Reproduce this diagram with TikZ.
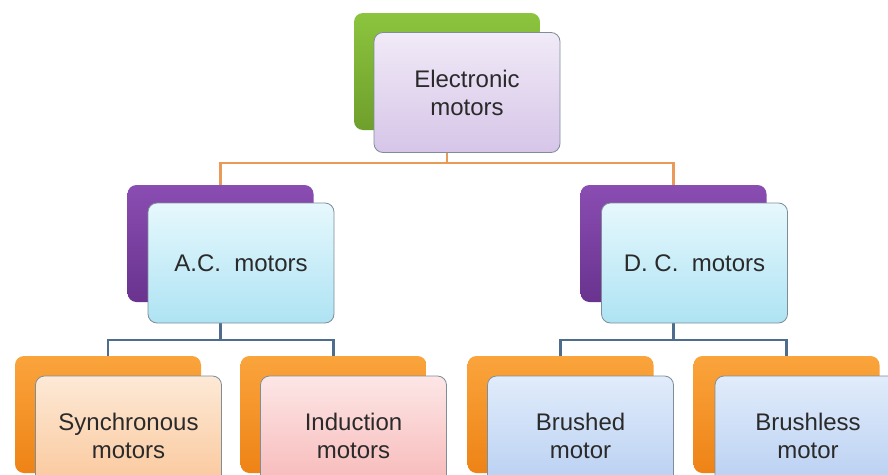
\documentclass[tikz,border=0pt]{standalone}
\usepackage{fontspec}
\setmainfont{Liberation Sans}

\definecolor{txt}{HTML}{2A2A2A}
\definecolor{greenA}{HTML}{8CC43E}
\definecolor{greenB}{HTML}{6E9F2C}
\definecolor{purpA}{HTML}{8A4DB2}
\definecolor{purpB}{HTML}{69338F}
\definecolor{oranA}{HTML}{FAA43C}
\definecolor{oranB}{HTML}{EE8316}
\definecolor{lilacA}{HTML}{F1EAF7}
\definecolor{lilacB}{HTML}{D6C5E8}
\definecolor{cyanA}{HTML}{E6F8FD}
\definecolor{cyanB}{HTML}{AEE3F3}
\definecolor{peachA}{HTML}{FDE9D6}
\definecolor{peachB}{HTML}{FAC597}
\definecolor{pinkA}{HTML}{FDE6E6}
\definecolor{pinkB}{HTML}{F7B5B5}
\definecolor{blueA}{HTML}{E1ECFB}
\definecolor{blueB}{HTML}{B5CDF1}
\definecolor{edge}{HTML}{7F8D99}
\definecolor{busO}{HTML}{E99A56}
\definecolor{busB}{HTML}{4E6D8C}

\pgfdeclarelayer{paper}
\pgfdeclarelayer{wires}
\pgfsetlayers{paper,wires,main}

\begin{document}
\begin{tikzpicture}[x=1pt,y=-1pt,
  backbox/.style={rounded corners=9pt, minimum width=186pt, minimum height=117pt,
    inner sep=0pt, top color=#1A, bottom color=#1B},
  frontbox/.style={rounded corners=9pt, minimum width=186pt, minimum height=120pt,
    inner sep=0pt, draw=edge, line width=0.8pt, align=center,
    font=\fontsize{24}{28}\selectfont, text=txt, top color=#1A, bottom color=#1B},
  wireO/.style={draw=busO, line width=2.4pt},
  wireB/.style={draw=busB, line width=2.4pt}]
\useasboundingbox (0,0) rectangle (888,474);
\begin{pgfonlayer}{paper}
  \fill[white] (0,0) rectangle (888,474);
\end{pgfonlayer}
\clip (0,0) rectangle (888,474);

% level 1
\node[backbox=green]  (topb) at (447,71.5) {};
\node[frontbox=lilac] (topf) at (467,92.5) {Electronic\\motors};

% level 2
\node[backbox=purp]  (acb) at (220.5,243.5) {};
\node[frontbox=cyan] (acf) at (241,263) {A.C.\ \ motors};
\node[backbox=purp]  (dcb) at (673.5,243.5) {};
\node[frontbox=cyan] (dcf) at (694.5,263) {D.\ C.\ \ motors};

% level 3
\node[backbox=oran]   (synb) at (108,414.5) {};
\node[frontbox=peach] (synf) at (128.5,436) {Synchronous\\motors};
\node[backbox=oran]   (indb) at (333.5,414.5) {};
\node[frontbox=pink]  (indf) at (353.5,436) {Induction\\motors};
\node[backbox=oran]   (brb)  at (560.5,414.5) {};
\node[frontbox=blue]  (brf)  at (580.5,436) {Brushed\\motor};
\node[backbox=oran]   (blb)  at (786.5,414.5) {};
\node[frontbox=blue]  (blf)  at (808,436) {Brushless\\motor};

% bus heights
\coordinate (busTop) at (0,163);
\coordinate (busLow) at (0,340);

\begin{pgfonlayer}{wires}
  \draw[wireO] (topb.center) -- (topb.center |- busTop) -| (acb.north);
  \draw[wireO] (topb.center |- busTop) -| (dcb.north);
  \draw[wireB] (acb.center) -- (acb.center |- busLow) -| (synb.north);
  \draw[wireB] (acb.center |- busLow) -| (indb.north);
  \draw[wireB] (dcb.center) -- (dcb.center |- busLow) -| (brb.north);
  \draw[wireB] (dcb.center |- busLow) -| (blb.north);
\end{pgfonlayer}
\end{tikzpicture}
\end{document}
